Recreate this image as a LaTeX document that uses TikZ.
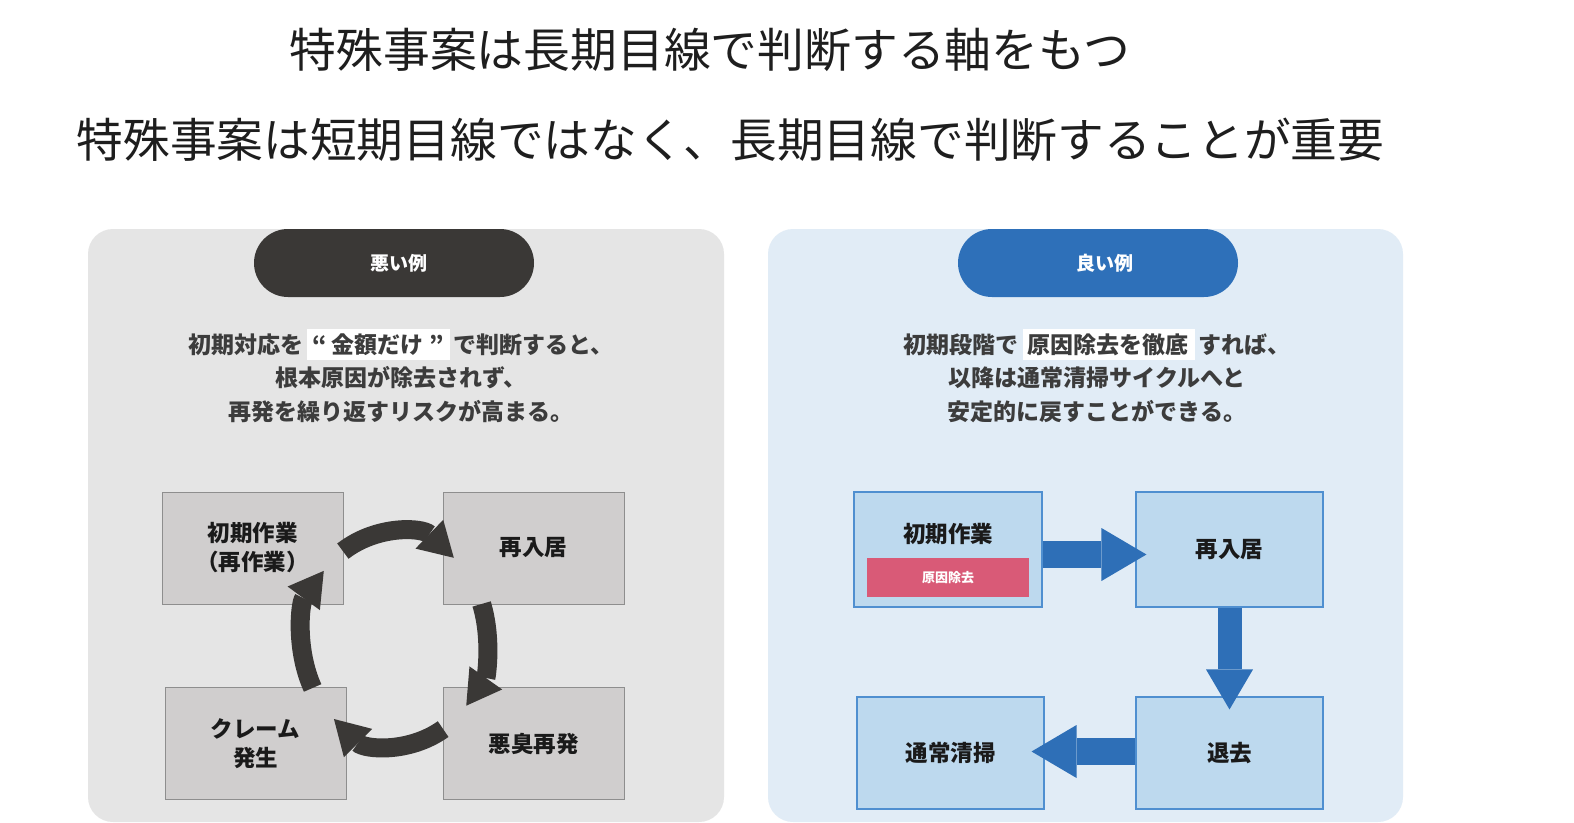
\documentclass[tikz,border=0pt]{standalone}
\usepackage{fontspec}
\setmainfont{Noto Sans CJK JP}
\usetikzlibrary{arrows.meta,calc}
\definecolor{leftbg}{HTML}{E5E5E5}
\definecolor{rightbg}{HTML}{E1ECF6}
\definecolor{darkpill}{HTML}{3A3836}
\definecolor{bluepill}{HTML}{2E70B9}
\definecolor{graybox}{HTML}{D0CECE}
\definecolor{grayline}{HTML}{8E8E8E}
\definecolor{bluebox}{HTML}{BDD9EE}
\definecolor{blueline}{HTML}{4F8FD0}
\definecolor{pinkbar}{HTML}{D95A77}
\definecolor{bodytext}{HTML}{3C3C3C}
\definecolor{boxtext}{HTML}{1A1A1A}
\definecolor{titletext}{HTML}{1E1E1E}
\definecolor{arrowblue}{HTML}{2E6FB7}
\definecolor{cyclecol}{HTML}{3A3836}
\newcommand\hlbox[1]{\hspace{4pt}{\setlength{\fboxsep}{0pt}\colorbox{white}{\rule[-7pt]{0pt}{31pt}\hspace{5pt}#1\hspace{6pt}}}\hspace{4pt}}
\begin{document}
\begin{tikzpicture}[x=1pt,y=-1pt,
  titlestyle/.style={anchor=base, text=titletext, inner sep=0pt},
  pillbox/.style={minimum width=280pt, minimum height=68pt, rounded corners=34pt, inner sep=0pt},
  pilltext/.style={text=white, font=\bfseries\fontsize{19}{22}\selectfont, inner sep=0pt},
  desc/.style={anchor=base, text=bodytext, font=\bfseries\fontsize{23}{28}\selectfont, inner sep=0pt},
  gbox/.style={draw=grayline, fill=graybox, line width=1pt, minimum width=181pt, minimum height=112pt, align=center, text=boxtext, font=\bfseries\fontsize{22.5}{29}\selectfont, inner sep=0pt},
  bbox/.style={draw=blueline, fill=bluebox, line width=1.1pt, minimum width=187pt, minimum height=114pt, align=center, text=boxtext, font=\bfseries\fontsize{22.5}{29}\selectfont, inner sep=0pt},
  cycarrow/.style={draw=cyclecol, line width=19pt, -{Triangle[width=40pt,length=34pt,line width=0pt]}},
  blockarrow/.style={draw=arrowblue, line width=27pt, -{Triangle[width=53pt,length=45pt,line width=0pt]}}
]
\useasboundingbox (0,0) rectangle (1574,822);
\fill[white] (0,0) rectangle (1574,822);

% titles
\node[titlestyle, font=\fontsize{46.8}{50}\selectfont] (t1) at (710,67) {特殊事案は長期目線で判断する軸をもつ};
\node[titlestyle, font=\fontsize{46.7}{50}\selectfont] (t2) at (730.5,157) {特殊事案は短期目線ではなく、長期目線で判断することが重要};

% panels
\fill[leftbg, rounded corners=25pt] (88,229) rectangle (724,822);
\fill[rightbg, rounded corners=25pt] (768,229) rectangle (1403,822);

% pills
\node[pillbox, fill=darkpill] (pl) at (394,263) {};
\node[pilltext] (plt) at (399,263) {悪い例};
\node[pillbox, fill=bluepill] (pr) at (1098,263) {};
\node[pilltext] (prt) at (1105,263) {良い例};

% descriptions
\node[desc] (dl1) at (401,353) {初期対応を\hlbox{“ 金額だけ ”}で判断すると、};
\node[desc] (dl2) at (401,386) {根本原因が除去されず、};
\node[desc] (dl3) at (401,420) {再発を繰り返すリスクが高まる。};
\node[desc] (dr1) at (1097,353) {初期段階で\hlbox{原因除去を徹底}すれば、};
\node[desc] (dr2) at (1097,386) {以降は通常清掃サイクルへと};
\node[desc] (dr3) at (1097,420) {安定的に戻すことができる。};

% left cycle boxes
\node[gbox] (L1) at (252.5,548) {初期作業\\（再作業）};
\node[gbox] (L2) at (533.5,548) {再入居};
\node[gbox] (L3) at (255.5,743.5) {クレーム\\発生};
\node[gbox] (L4) at (533.5,743.5) {悪臭再発};

% cycle arrows
\coordinate (C) at (394.5,639);
\draw[cycarrow] ($(C)+(124:92.3pt and 106pt)$) arc[start angle=124, end angle=50, x radius=92.3pt, y radius=106pt];
\draw[cycarrow] ($(C)+(19.3:92.3pt and 106pt)$) arc[start angle=19.3, end angle=-39, x radius=92.3pt, y radius=106pt];
\draw[cycarrow] ($(C)+(-58.2:92.3pt and 106pt)$) arc[start angle=-58.2, end angle=-131, x radius=92.3pt, y radius=106pt];
\draw[cycarrow] ($(C)+(207.5:92.3pt and 106pt)$) arc[start angle=207.5, end angle=140, x radius=92.3pt, y radius=106pt];

% right flow boxes
\node[bbox, minimum width=188pt, minimum height=115pt] (R1) at (948,549.5) {};
\node[anchor=base, text=boxtext, font=\bfseries\fontsize{22.5}{29}\selectfont, inner sep=0pt] (R1lbl) at (948,542.5) {初期作業};
\node[fill=pinkbar, minimum width=162pt, minimum height=39pt, inner sep=0pt, text=white, font=\bfseries\fontsize{13}{15}\selectfont] (pink) at (948,577.5) {原因除去};
\node[bbox, minimum height=115pt] (R2) at (1229.5,549.5) {再入居};
\node[bbox, minimum height=112pt] (R3) at (950.5,753) {通常清掃};
\node[bbox, minimum height=112pt] (R4) at (1229.5,753) {退去};

% block arrows
\draw[blockarrow] ($(R1.east)+(0,5)$) -- ($(R2.west)+(11,5)$);
\draw[blockarrow, line width=24pt, -{Triangle[width=47pt,length=40pt,line width=0pt]}] (R2.south) -- ($(R4.north)+(0,13)$);
\draw[blockarrow] ($(R4.west)+(0,-1.5)$) -- ($(R3.east)+(-13,-1.5)$);
\end{tikzpicture}
\end{document}
